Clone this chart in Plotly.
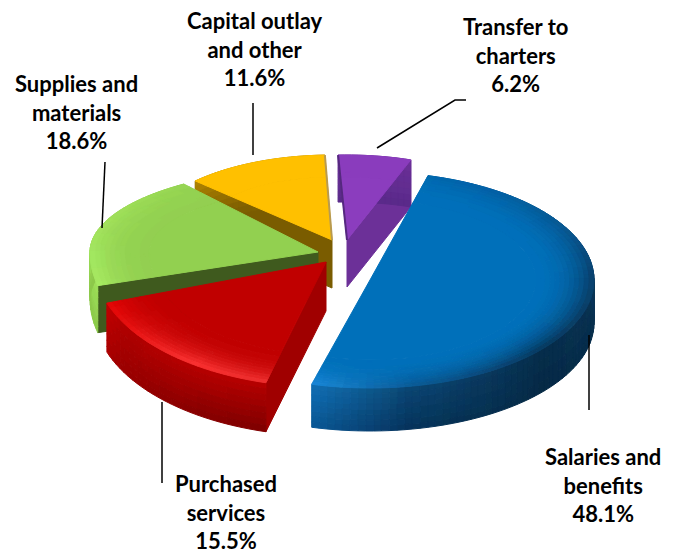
import math
import plotly.graph_objects as go

categories = ["Salaries and<br>benefits", "Purchased<br>services", "Supplies and<br>materials",
              "Capital outlay<br>and other", "Transfer to<br>charters"]
values = [48.1, 15.5, 18.6, 11.6, 6.2]
value_labels = ["48.1%", "15.5%", "18.6%", "11.6%", "6.2%"]

W, H = 675, 555
TOTAL = sum(values)
spans = dict(zip(categories, [v * 360 / TOTAL for v in values]))
K = categories

# projected-pie geometry per slice (pixel axes)
GEOM = {
    K[0]: dict(apex=(370, 280), a=224, bt=108, bb=108, start=15, stretch=1.04, depth=43, base="#0070BA", edge=None,
               faces=[], knots=[(15, "#0068b0", "#005c9e", "#004f88"), (60, "#08568f", "#0a4f85", "#0a4676"),
                                (90, "#0a3d66", "#0a3558", "#08304e"), (130, "#073559", "#062c4a", "#062a46"),
                                (170, "#0a5a96", "#0a4674", "#07345a"), (196, "#1c8cdc", "#1070b8", "#0a5a96")]),
    K[1]: dict(apex=(326, 262), a=232, bt=125, bb=125, start=195, stretch=1, depth=49, base="#C00000", edge=None,
               faces=[("s", "#A00000")], knots=[(195, "#f03030", "#b80000", "#7e0000"), (215, "#ff3535", "#b80000", "#860000"),
                                                (240, "#e81010", "#b00000", "#980000"), (255, "#e60000", "#cc0000", "#b00000")]),
    K[2]: dict(apex=(318, 252), a=228, bt=84, bb=130, start=255, stretch=1.03, depth=47, base="#92D050", edge=None,
               faces=[("s", "#3F5A1E")], knots=[(255, "#a8ec62", "#a0e25a", "#8cc84a"), (290, "#a2e45c", "#9ada55", "#8cc84a"),
                                                (325, "#96d452", "#92d050", "#8cc84a")]),
    K[3]: dict(apex=(332, 240), a=190, bt=85, bb=85, start=314, stretch=1.05, depth=48, base="#FFC000", edge=("e", "#B89A50"),
               faces=[("s", "#7A5C00")], knots=[(314, "#FFC000", "#b08500", "#7A5C00"), (360, "#FFC000", "#b08500", "#7A5C00")]),
    K[4]: dict(apex=(347, 240), a=190, bt=85, bb=85, start=-2.7, stretch=1, depth=47, base="#8B3DBE", edge=("s", "#55287F"),
               faces=[("e", "#6C3098")], knots=[(-3, "#8B3DBE", "#6C3098", "#5a2a8a"), (21, "#8B3DBE", "#6C3098", "#5a2a8a")]),
}
DRAW_ORDER = [K[4], K[3], K[2], K[1], K[0]]

LABELS = {K[0]: (603, 485), K[1]: (226, 512), K[2]: (76, 112), K[3]: (255, 49), K[4]: (515, 55)}
LEADERS = [([589, 589], [335, 410]), ([162, 162], [402, 483]), ([105, 102], [162, 228]),
           ([253, 253], [103, 155]), ([377, 455, 466], [148, 100, 100])]


def rgb(h):
    return tuple(int(h[i:i + 2], 16) for i in (1, 3, 5))


def mix(c1, c2, f):
    a, b = rgb(c1), rgb(c2)
    return "#%02x%02x%02x" % tuple(min(255, 3 * round((a[i] + (b[i] - a[i]) * f) / 3)) for i in range(3))


def knot_colors(g, t):
    kn = g["knots"]
    if t <= kn[0][0]:
        return kn[0][1:]
    for p, q in zip(kn, kn[1:]):
        if t <= q[0]:
            f = (t - p[0]) / (q[0] - p[0])
            return tuple(mix(p[i], q[i], f) for i in (1, 2, 3))
    return kn[-1][1:]


def pt(g, t, r=1.0, h=0.0):
    rad = math.radians(t)
    c = math.cos(rad)
    b = g["bt"] if c >= 0 else g["bb"]
    return g["apex"][0] + g["a"] * r * math.sin(rad), g["apex"][1] - b * r * c + g["depth"] * h


fig = go.Figure()


def flush(groups, name):
    for color, (xs, ys) in groups.items():
        fig.add_trace(go.Scatter(x=xs, y=ys, mode="lines", fill="toself", fillcolor=color,
                                 line=dict(color=color, width=1), hoverinfo="skip", showlegend=False, name=name))


def add_poly(groups, points, color):
    xs, ys = groups.setdefault(color, ([], []))
    xs += [p[0] for p in points] + [points[0][0], None]
    ys += [p[1] for p in points] + [points[0][1], None]


SURF = [0.74 + 0.26 * i / 12 for i in range(13)]
WALL = [i / 8 for i in range(9)]
for key in DRAW_ORDER:
    g = GEOM[key]
    name = key.replace("<br>", " ")
    t0 = g["start"]
    t1 = t0 + spans[key] * g["stretch"]
    n = max(3, int((t1 - t0) / 2))
    ts = [t0 + (t1 - t0) * i / n for i in range(n + 1)]
    # straight cut faces
    faces = {}
    for which, col in g["faces"]:
        te = t0 if which == "s" else t1
        add_poly(faces, [g["apex"], pt(g, te), pt(g, te, 1, 1), (g["apex"][0], g["apex"][1] + g["depth"])], col)
    flush(faces, name)
    # outer wall
    walls = {}
    for j in range(len(WALL) - 1):
        f = (j + 0.5) / (len(WALL) - 1)
        for ta, tb in zip(ts, ts[1:]):
            rim, wt, wb = knot_colors(g, (ta + tb) / 2)
            add_poly(walls, [pt(g, ta, 1, WALL[j]), pt(g, tb, 1, WALL[j]), pt(g, tb, 1, WALL[j + 1]), pt(g, ta, 1, WALL[j + 1])],
                     mix(wt, wb, f))
    flush(walls, name)
    # bevel rings
    rings = {}
    for j in range(len(SURF) - 1):
        f = ((j + 0.5) / (len(SURF) - 1)) ** 2.2
        for ta, tb in zip(ts, ts[1:]):
            rim, wt, wb = knot_colors(g, (ta + tb) / 2)
            add_poly(rings, [pt(g, ta, SURF[j]), pt(g, tb, SURF[j]), pt(g, tb, SURF[j + 1]), pt(g, ta, SURF[j + 1])],
                     mix(g["base"], rim, f))
    flush(rings, name)
    # top surface
    top = {}
    add_poly(top, [g["apex"]] + [pt(g, t, SURF[0]) for t in ts], g["base"])
    flush(top, name)
    # thin edge line
    if g["edge"]:
        which, col = g["edge"]
        p = pt(g, t0 if which == "s" else t1)
        fig.add_trace(go.Scatter(x=[p[0], g["apex"][0]], y=[p[1], g["apex"][1]], mode="lines",
                                 line=dict(color=col, width=2), hoverinfo="skip", showlegend=False))

for xs, ys in LEADERS:
    fig.add_trace(go.Scatter(x=xs, y=ys, mode="lines", line=dict(color="#000000", width=1.5),
                             hoverinfo="skip", showlegend=False))

for cat, lab in zip(categories, value_labels):
    x, y = LABELS[cat]
    fig.add_annotation(x=x, y=y, text=f"<b>{cat}<br>{lab}</b>", showarrow=False, align="center",
                       font=dict(family="Lato", size=22, color="#000000"))

fig.update_layout(width=W, height=H, margin=dict(l=0, r=0, t=0, b=0), paper_bgcolor="#ffffff", plot_bgcolor="#ffffff",
                  xaxis=dict(range=[0, W], visible=False, fixedrange=True),
                  yaxis=dict(range=[H, 0], visible=False, fixedrange=True), showlegend=False)
fig.write_html("out.html", config={"displayModeBar": False}, post_script="document.body.style.margin='0';")
